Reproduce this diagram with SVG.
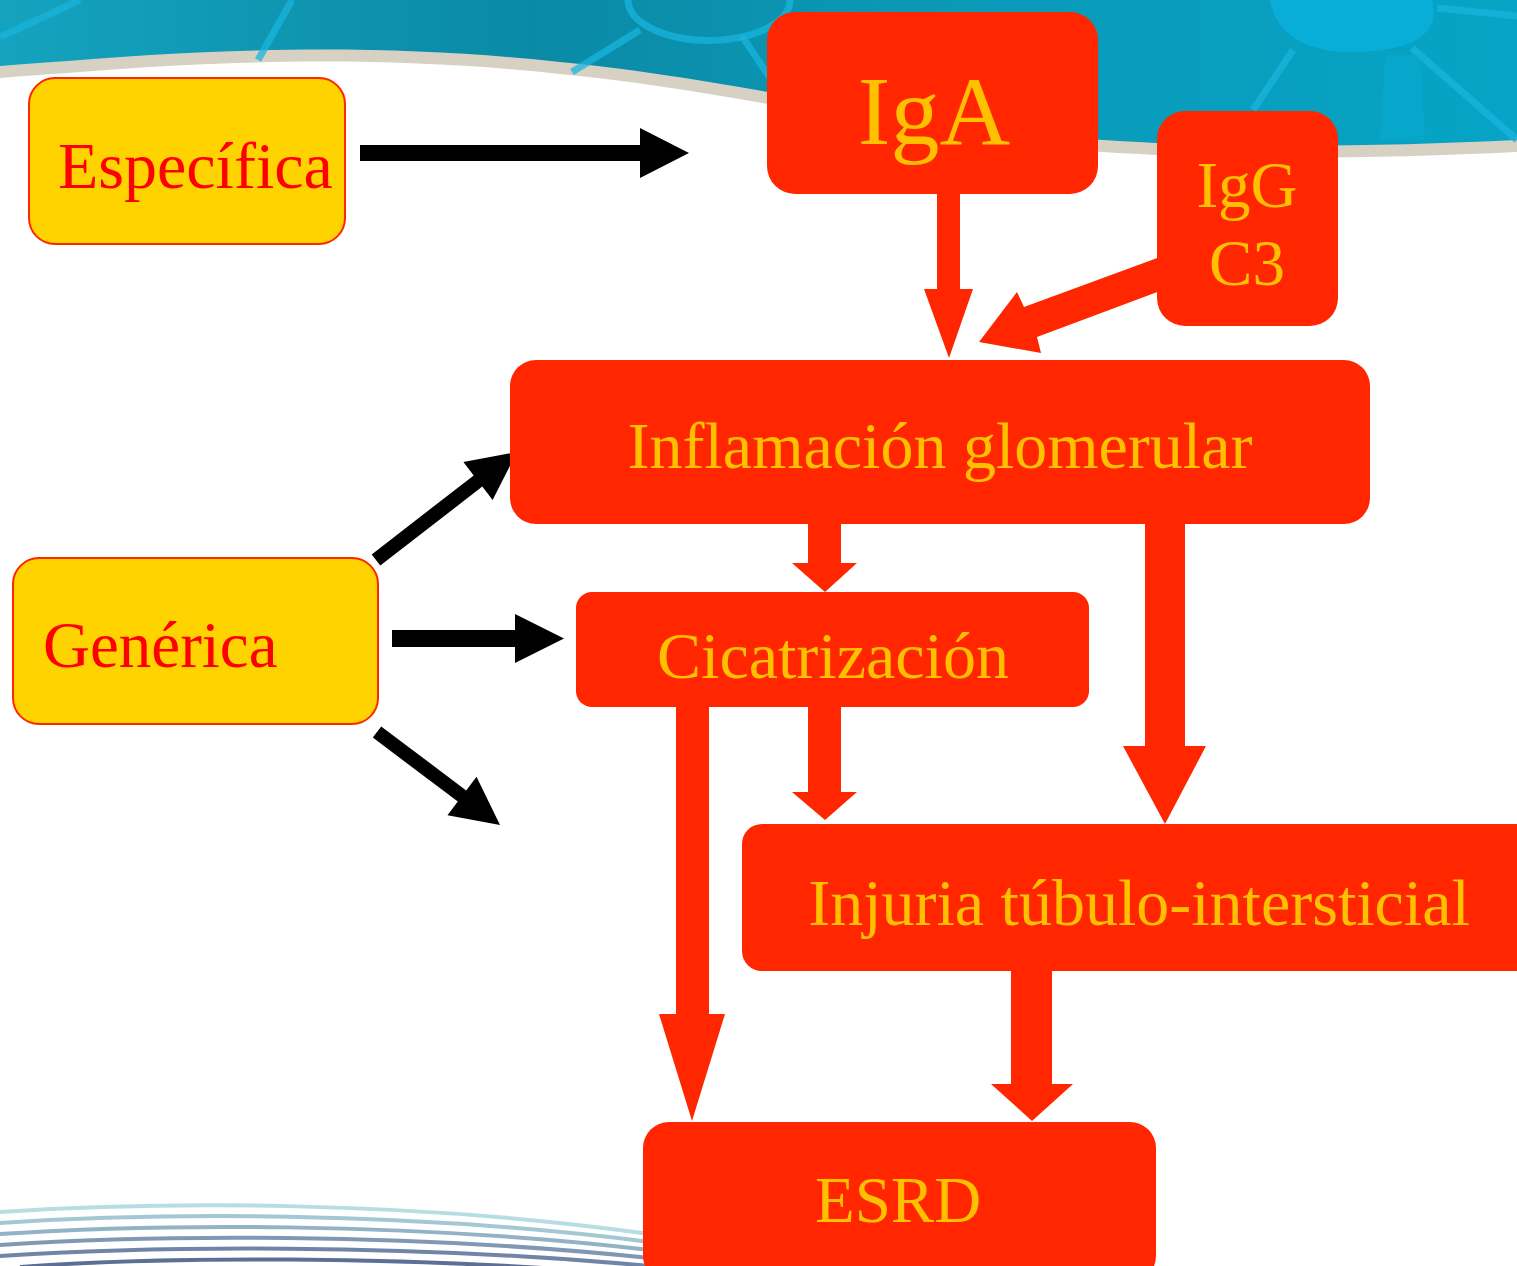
<svg xmlns="http://www.w3.org/2000/svg" width="1517" height="1266" viewBox="0 0 1517 1266">
<defs>
<linearGradient id="teal" x1="0" y1="0" x2="1" y2="0">
<stop offset="0" stop-color="#14a3bf"/>
<stop offset="0.35" stop-color="#0a8aa5"/>
<stop offset="0.6" stop-color="#0b98b6"/>
<stop offset="1" stop-color="#06a4c6"/>
</linearGradient>
<style>
.red{fill:#ff2600}
.yel{fill:#ffd300;stroke:#ff2600;stroke-width:2}
.ot{font-family:"Liberation Serif","Times New Roman",serif;fill:#ffc000;text-anchor:middle}
.rt{font-family:"Liberation Serif","Times New Roman",serif;fill:#ff0000}
.blk{fill:#000}
.lt{stroke:#1ab4dc;stroke-width:7;fill:none;opacity:0.75}
.st{fill:none;stroke-width:4}
</style>
</defs>
<rect x="0" y="0" width="1517" height="1266" fill="#ffffff"/>
<g id="background">
<path d="M0,0 H1517 V140 C1350,148 1150,150 1000,130 C850,110 700,75 560,62 C430,48 300,46 150,55 C90,59 40,63 0,66 Z" fill="#d7d1c4" transform="translate(0,12)"/>
<path d="M0,0 H1517 V140 C1350,148 1150,150 1000,130 C850,110 700,75 560,62 C430,48 300,46 150,55 C90,59 40,63 0,66 Z" fill="url(#teal)"/>
<path class="lt" d="M0,37 L80,0"/>
<path class="lt" d="M258,60 L292,0"/>
<path class="lt" d="M628,0 A80,40 0 0 0 790,0"/>
<path class="lt" d="M640,30 L572,72"/>
<path class="lt" d="M742,36 L774,84"/>
<path d="M1270,0 L1432,0 C1440,30 1420,52 1350,52 C1300,52 1275,30 1270,0 Z" fill="#08b0dc" opacity="0.85"/>
<path class="lt" d="M1293,50 L1253,110"/>
<path class="lt" d="M1412,48 L1517,140"/>
<path class="lt" d="M1437,8 L1517,16"/>
<path d="M1385,55 L1420,55 L1425,140 L1380,140 Z" fill="#08acd4" opacity="0.5"/>
<g>
<path class="st" stroke="#b5dde2" d="M0,1212 C150,1202 400,1199 650,1234"/>
<path class="st" stroke="#a3c8d4" d="M0,1223 C150,1213 400,1210 650,1242"/>
<path class="st" stroke="#92b2c6" d="M0,1234 C150,1224 400,1221 650,1250"/>
<path class="st" stroke="#8098b5" d="M0,1245 C150,1235 400,1232 650,1258"/>
<path class="st" stroke="#6f84a6" d="M0,1256 C150,1246 400,1243 650,1266"/>
<path class="st" stroke="#5e6f96" d="M20,1267 C150,1257 400,1254 650,1276"/>
</g>
</g>
<g id="connectors">
<polygon class="blk" points="360,145 640,145 640,128 689,153 640,178 640,161 360,161"/>
<polygon class="blk" points="371.7,554.4 473.7,475.4 463.4,461.9 517,452 492.6,500.1 482.3,486.6 380.3,565.6"/>
<polygon class="blk" points="392,630 515,630 515,614 564,638.5 515,663 515,647 392,647"/>
<polygon class="blk" points="381.2,726.4 466.2,790.4 476.5,776.8 500,825 447.5,815.2 457.8,801.6 372.8,737.6"/>
<polygon class="red" points="937,190 960,190 960,289 973,289 949,358 924,289 937,289"/>
<polygon class="red" points="1160,257 1024,307 1017,292 979,342 1041,353 1037,337 1160,291"/>
<polygon class="red" points="808,520 841,520 841,563 857,563 825,592 792,563 808,563"/>
<polygon class="red" points="808,704 841,704 841,792 857,792 825,820 792,792 808,792"/>
<polygon class="red" points="1145,520 1185,520 1185,746 1206,746 1165,824 1123,746 1145,746"/>
<polygon class="red" points="676,704 709,704 709,1014 725,1014 692,1121 659,1014 676,1014"/>
<polygon class="red" points="1011,968 1052,968 1052,1084 1073,1084 1032,1121 991,1084 1011,1084"/>
</g>
<g id="especifica">
<rect class="yel" x="29" y="78" width="316" height="166" rx="26"/>
<text class="rt" x="58" y="188" font-size="66">Específica</text>
</g>
<g id="generica">
<rect class="yel" x="13" y="558" width="365" height="166" rx="26"/>
<text class="rt" x="43" y="667" font-size="65">Genérica</text>
</g>
<g id="iga">
<rect class="red" x="767" y="12" width="331" height="182" rx="28"/>
<text class="ot" x="934" y="144" font-size="98">IgA</text>
</g>
<g id="iggc3">
<rect class="red" x="1157" y="111" width="181" height="215" rx="28"/>
<text class="ot" x="1247" y="207" font-size="65">IgG</text>
<text class="ot" x="1247" y="285" font-size="65">C3</text>
</g>
<g id="inflamacion">
<rect class="red" x="510" y="360" width="860" height="164" rx="26"/>
<text class="ot" x="940" y="468" font-size="66">Inflamación glomerular</text>
</g>
<g id="cicatrizacion">
<rect class="red" x="576" y="592" width="513" height="115" rx="16"/>
<text class="ot" x="833" y="678" font-size="66">Cicatrización</text>
</g>
<g id="injuria">
<rect class="red" x="742" y="824" width="800" height="147" rx="20"/>
<text class="ot" x="1139" y="925" font-size="66">Injuria túbulo-intersticial</text>
</g>
<g id="esrd">
<rect class="red" x="643" y="1122" width="513" height="160" rx="26"/>
<text class="ot" x="898" y="1222" font-size="65">ESRD</text>
</g>
</svg>
